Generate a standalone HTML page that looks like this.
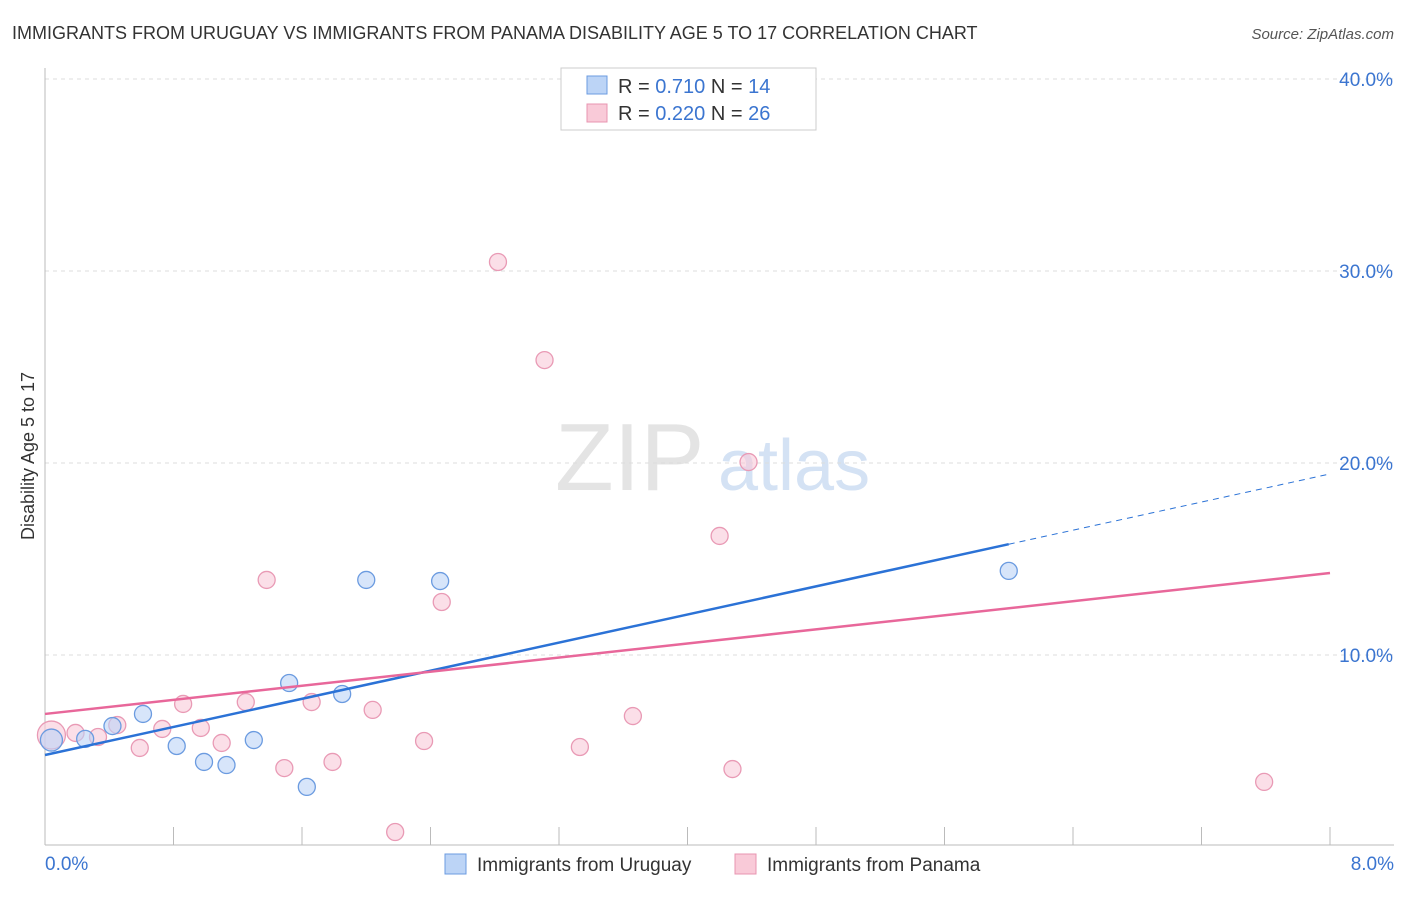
<!DOCTYPE html>
<html><head><meta charset="utf-8"><style>
body{margin:0;background:#fff;font-family:"Liberation Sans",sans-serif;}
svg text{font-family:"Liberation Sans",sans-serif;}
</style></head><body>
<svg id="chart" width="1406" height="892">
<text x="12" y="39" font-size="18" fill="#333">IMMIGRANTS FROM URUGUAY VS IMMIGRANTS FROM PANAMA DISABILITY AGE 5 TO 17 CORRELATION CHART</text>
<text x="1394" y="39" font-size="15" fill="#555" font-style="italic" text-anchor="end">Source: ZipAtlas.com</text>
<text x="34" y="456" font-size="18" fill="#333" text-anchor="middle" transform="rotate(-90 34 456)">Disability Age 5 to 17</text>
<text x="555" y="490" font-size="96" fill="#e4e4e4" font-family="Liberation Serif">ZIP</text>
<text x="718" y="490" font-size="72" fill="#d4e2f4">atlas</text>
<g id="grid"></g><g id="axes"></g><g id="marks"></g>
<g>
<rect x="561" y="68" width="255" height="62" fill="#fff" stroke="#ccc"/>
<rect x="587" y="76" width="20" height="18" fill="#bcd4f6" stroke="#6b9be0"/>
<rect x="587" y="104" width="20" height="18" fill="#f9cad8" stroke="#e894b0"/>
<text x="618" y="93" font-size="20" fill="#333">R = <tspan fill="#3b75d0">0.710</tspan>   N = <tspan fill="#3b75d0">14</tspan></text>
<text x="618" y="120" font-size="20" fill="#333">R = <tspan fill="#3b75d0">0.220</tspan>   N = <tspan fill="#3b75d0">26</tspan></text>
</g>
<g>
<rect x="445" y="854" width="21" height="20" fill="#bcd4f6" stroke="#6b9be0"/>
<text x="477" y="871" font-size="19" fill="#333">Immigrants from Uruguay</text>
<rect x="735" y="854" width="21" height="20" fill="#f9cad8" stroke="#e894b0"/>
<text x="767" y="871" font-size="19" fill="#333">Immigrants from Panama</text>
</g>
</svg>
<script>
const yTicks=[10,20,30,40];
const yTickLabels=["10.0%","20.0%","30.0%","40.0%"];
const xTickLabels=["0.0%","8.0%"];
const uruguayX=[0.04,0.25,0.42,0.61,0.82,0.99,1.13,1.30,1.52,1.63,1.85,2.00,2.46,6.00];
const uruguayY=[5.57,5.63,6.30,6.93,5.26,4.43,4.27,5.57,8.54,3.13,7.97,13.91,13.85,14.38];
const panamaX=[0.04,0.19,0.33,0.45,0.59,0.73,0.86,0.97,1.10,1.25,1.38,1.49,1.66,1.79,2.04,2.18,2.36,2.47,2.82,3.11,3.33,3.66,4.20,4.28,4.38,7.59];
const panamaY=[5.83,5.94,5.73,6.35,5.16,6.15,7.45,6.20,5.42,7.55,13.91,4.11,7.55,4.43,7.14,0.78,5.52,12.76,30.47,25.36,5.21,6.82,16.20,4.06,20.05,3.39];
const uruguayTrend=[4.79,19.43];
const panamaTrend=[6.93,14.27];
const NS="http://www.w3.org/2000/svg";
const sx=v=>45+v/8*1285, sy=v=>847-v*19.2;
function mk(tag,attrs,parent){const e=document.createElementNS(NS,tag);for(const k in attrs)e.setAttribute(k,attrs[k]);document.getElementById(parent).appendChild(e);return e;}
yTicks.forEach((t,i)=>{
 const g=mk('line',{x1:45,x2:1394,y1:sy(t),y2:sy(t),stroke:'#ddd','stroke-dasharray':'4 4'},'grid');
 
 
 const l=mk('text',{x:1393,y:sy(t)+7,'font-size':19,fill:'#3b75d0','text-anchor':'end'},'grid');
 l.textContent=yTickLabels[i];
 
 
});
const ax=mk('line',{x1:45,x2:45,y1:68,y2:845,stroke:'#bbb'},'axes');


const bx=mk('line',{x1:45,x2:1394,y1:845,y2:845,stroke:'#bbb'},'axes');


for(let i=1;i<=10;i++){
 const t=mk('line',{x1:sx(i*0.8),x2:sx(i*0.8),y1:827,y2:845,stroke:'#bbb'},'axes');
 
 
}
[[0,'start',45],[8,'end',1394]].forEach((d,i)=>{
 const l=mk('text',{x:d[2],y:870,'font-size':19,fill:'#3b75d0','text-anchor':d[1]},'axes');
 l.textContent=xTickLabels[i];
 
 
});
function pts(X,Y,fill,stroke,name){
 X.forEach((x,i)=>{
  const c=mk('circle',{cx:sx(x),cy:sy(Y[i]),r:i===0?(name==='panama-point'?14:11):8.5,fill:fill,'fill-opacity':0.6,stroke:stroke,'stroke-width':1.3},'marks');
  
  
 });
}
pts(panamaX,panamaY,'#f9cad8','#e99ab5','panama-point');
pts(uruguayX,uruguayY,'#bcd4f6','#6b9be0','uruguay-point');
const ue=6.0, uAt=v=>uruguayTrend[0]+(uruguayTrend[1]-uruguayTrend[0])*v/8;
const l1=mk('line',{x1:sx(0),y1:sy(uAt(0)),x2:sx(ue),y2:sy(uAt(ue)),stroke:'#2b72d6','stroke-width':2.5},'marks');


const l2=mk('line',{x1:sx(ue),y1:sy(uAt(ue)),x2:sx(8),y2:sy(uAt(8)),stroke:'#2b72d6','stroke-width':1,'stroke-dasharray':'6 5'},'marks');


const l3=mk('line',{x1:sx(0),y1:sy(panamaTrend[0]),x2:sx(8),y2:sy(panamaTrend[1]),stroke:'#e8679a','stroke-width':2.5},'marks');


</script>
</body></html>
